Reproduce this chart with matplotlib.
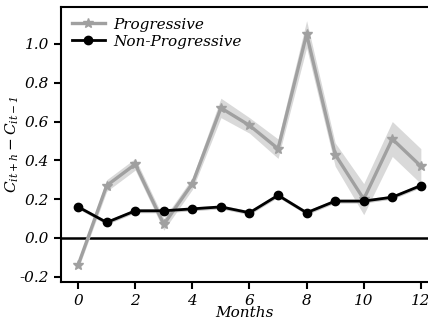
import numpy as np
import matplotlib
matplotlib.use("Agg")
import matplotlib.pyplot as plt

months = [0, 1, 2, 3, 4, 5, 6, 7, 8, 9, 10, 11, 12]
progressive = [-0.14, 0.27, 0.38, 0.07, 0.28, 0.67, 0.58, 0.46, 1.05, 0.43, 0.20, 0.51, 0.37]
progressive_err = [0.02, 0.03, 0.03, 0.03, 0.03, 0.05, 0.04, 0.05, 0.07, 0.06, 0.08, 0.09, 0.09]
non_progressive = [0.16, 0.08, 0.14, 0.14, 0.15, 0.16, 0.13, 0.22, 0.13, 0.19, 0.19, 0.21, 0.27]
non_progressive_err = [0.01] * 13

plt.rcParams['font.family'] = 'DejaVu Serif'
plt.rcParams['font.style'] = 'italic'
plt.rcParams['mathtext.fontset'] = 'dejavuserif'

fig = plt.figure(figsize=(4.28, 3.25), dpi=100)
ax = fig.add_axes([0.1425, 0.1323, 0.8575, 0.846])

x = np.array(months)
p = np.array(progressive)
pe = np.array(progressive_err)
n = np.array(non_progressive)
ne = np.array(non_progressive_err)

ax.axhline(0, color='black', lw=1.8, zorder=1)

ax.fill_between(x, p - pe, p + pe, color='#d9d9d9', lw=0, zorder=2)
ax.plot(x, p, color='#a0a0a0', lw=2.4, marker='*', ms=7, label='Progressive', zorder=3)
ax.fill_between(x, n - ne, n + ne, color='#c8c8c8', lw=0, zorder=2)
ax.plot(x, n, color='black', lw=2, marker='o', ms=6, label='Non-Progressive', zorder=4)

ax.set_xlim(-0.6, 12.25)
ax.set_ylim(-0.227, 1.19)
ax.set_xticks([0, 2, 4, 6, 8, 10, 12])
ax.set_yticks([-0.2, 0.0, 0.2, 0.4, 0.6, 0.8, 1.0])
ax.set_yticklabels(['-0.2', '0.0', '0.2', '0.4', '0.6', '0.8', '1.0'])
ax.tick_params(axis='both', labelsize=11, length=5, width=1.5, direction='out')

for s in ['left', 'bottom', 'top']:
    ax.spines[s].set_linewidth(1.5)
ax.spines['right'].set_visible(False)

ax.set_xlabel('Months', fontsize=11, labelpad=-1)
ax.set_ylabel(r'$C_{it+h} - C_{it-1}$', fontsize=11, labelpad=-1)

ax.legend(loc='upper left', frameon=False, fontsize=11, handlelength=2.2,
          borderaxespad=0.3, labelspacing=0.2, handletextpad=0.5)

fig.savefig('out.png', dpi=100)
